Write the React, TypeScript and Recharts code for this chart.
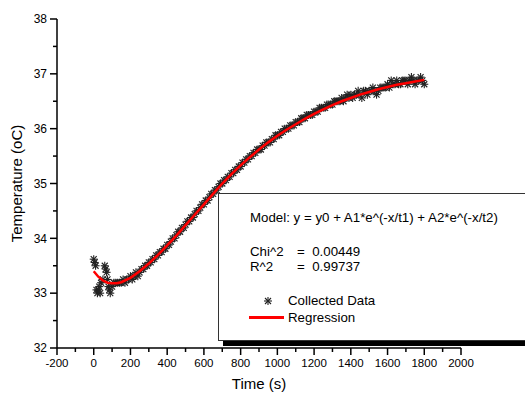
import { ComposedChart, Scatter, XAxis, YAxis, Legend } from 'recharts'

// collected samples (s, oC)
const sampleTime = [
    0, 5, 10, 15, 20, 25, 30, 35, 40, 50, 60, 65, 70, 75, 80, 85, 90, 100, 110, 120,
    130, 140, 150, 160, 170, 180, 190, 200, 210, 220, 230, 240, 250, 260, 270, 280, 290, 300, 310, 320,
    330, 340, 350, 360, 370, 380, 390, 400, 410, 420, 430, 440, 450, 460, 470, 480, 490, 500, 510, 520,
    530, 540, 550, 560, 570, 580, 590, 600, 610, 620, 630, 640, 650, 660, 670, 680, 690, 700, 710, 720,
    730, 740, 750, 760, 770, 780, 790, 800, 810, 820, 830, 840, 850, 860, 870, 880, 890, 900, 910, 920,
    930, 940, 950, 960, 970, 980, 990, 1000, 1010, 1020, 1030, 1040, 1050, 1060, 1070, 1080, 1090, 1100, 1110, 1120,
    1130, 1140, 1150, 1160, 1170, 1180, 1190, 1200, 1210, 1220, 1230, 1240, 1250, 1260, 1270, 1280, 1290, 1300, 1310, 1320,
    1330, 1340, 1350, 1360, 1370, 1380, 1390, 1400, 1410, 1420, 1430, 1440, 1450, 1460, 1470, 1480, 1490, 1500, 1510, 1520,
    1530, 1540, 1550, 1560, 1570, 1580, 1590, 1600, 1610, 1620, 1630, 1640, 1650, 1660, 1670, 1680, 1690, 1700, 1710, 1720,
    1730, 1740, 1750, 1760, 1770, 1780, 1790, 1800,
]
const sampleTemp = [
    33.62, 33.56, 33.5, 33.06, 33.0, 33.06, 33.12, 33.0, 33.19, 33.25, 33.5, 33.44, 33.38, 33.25, 33.12, 33.06, 33.0, 33.12, 33.19, 33.19,
    33.19, 33.19, 33.19, 33.25, 33.19, 33.25, 33.25, 33.31, 33.25, 33.31, 33.38, 33.31, 33.38, 33.44, 33.44, 33.5, 33.5, 33.56, 33.56, 33.62,
    33.62, 33.69, 33.69, 33.75, 33.75, 33.81, 33.81, 33.88, 33.88, 33.94, 34.0, 34.0, 34.06, 34.12, 34.12, 34.19, 34.19, 34.25, 34.31, 34.31,
    34.38, 34.38, 34.44, 34.5, 34.5, 34.56, 34.62, 34.62, 34.69, 34.69, 34.75, 34.81, 34.81, 34.88, 34.88, 34.94, 35.0, 35.0, 35.06, 35.06,
    35.12, 35.12, 35.19, 35.19, 35.25, 35.25, 35.31, 35.31, 35.38, 35.38, 35.44, 35.44, 35.5, 35.5, 35.56, 35.56, 35.62, 35.62, 35.62, 35.69,
    35.69, 35.75, 35.75, 35.75, 35.81, 35.81, 35.88, 35.88, 35.88, 35.94, 35.94, 36.0, 36.0, 36.0, 36.06, 36.06, 36.06, 36.12, 36.12, 36.12,
    36.19, 36.19, 36.19, 36.25, 36.25, 36.25, 36.25, 36.31, 36.31, 36.31, 36.38, 36.38, 36.38, 36.38, 36.44, 36.44, 36.44, 36.44, 36.5, 36.5,
    36.5, 36.5, 36.56, 36.5, 36.56, 36.62, 36.56, 36.62, 36.56, 36.62, 36.62, 36.69, 36.62, 36.56, 36.69, 36.69, 36.62, 36.69, 36.69, 36.75,
    36.69, 36.62, 36.69, 36.75, 36.75, 36.75, 36.75, 36.81, 36.75, 36.88, 36.81, 36.81, 36.88, 36.81, 36.81, 36.88, 36.88, 36.88, 36.81, 36.88,
    36.94, 36.88, 36.81, 36.88, 36.88, 36.94, 36.88, 36.81,
]

// fitted curve
const fitTime = [
    0, 25, 50, 75, 100, 125, 150, 200, 250, 300, 350, 400, 450, 500, 550, 600, 650, 700, 750, 800,
    850, 900, 950, 1000, 1050, 1100, 1150, 1200, 1250, 1300, 1350, 1400, 1450, 1500, 1550, 1600, 1650, 1700, 1750, 1800,
]
const fitTemp = [
    33.4, 33.3, 33.23, 33.19, 33.18, 33.18, 33.2, 33.28, 33.4, 33.54, 33.7, 33.87, 34.05, 34.24, 34.43, 34.62, 34.81, 35.0, 35.17, 35.33,
    35.48, 35.62, 35.75, 35.87, 35.98, 36.08, 36.18, 36.27, 36.35, 36.43, 36.5, 36.56, 36.62, 36.67, 36.72, 36.76, 36.8, 36.83, 36.86, 36.89,
]

const xTicks = [-200, -100, 0, 100, 200, 300, 400, 500, 600, 700, 800, 900, 1000, 1100, 1200, 1300, 1400, 1500, 1600, 1700, 1800, 1900, 2000]
const yTicks = [32, 32.5, 33, 33.5, 34, 34.5, 35, 35.5, 36, 36.5, 37, 37.5, 38]

const samples = sampleTime.map((t, i) => ({ t, temp: sampleTemp[i] }))
const fit = fitTime.map((t, i) => ({ t, temp: fitTemp[i] }))

const FONT = '"Liberation Sans", Arial, sans-serif'

const Star = ({ cx, cy }: any) => {
    const r = 4
    const d = 3
    return (
        <g stroke="#222" strokeWidth={1.1}>
            <line x1={cx} y1={cy - r} x2={cx} y2={cy + r} />
            <line x1={cx - r} y1={cy} x2={cx + r} y2={cy} />
            <line x1={cx - d} y1={cy - d} x2={cx + d} y2={cy + d} />
            <line x1={cx - d} y1={cy + d} x2={cx + d} y2={cy - d} />
        </g>
    )
}

const NoDot = () => null

const XTick = ({ x, y, payload }: any) => {
    const major = payload.value % 200 === 0
    return (
        <g>
            <line x1={x} x2={x} y1={y} y2={y + (major ? 7 : 4)} stroke="#000" strokeWidth={1.5} />
            {major && (
                <text x={x} y={y + 19} textAnchor="middle" fontSize={11.5} fill="#000" fontFamily={FONT}>
                    {payload.value}
                </text>
            )}
        </g>
    )
}

const YTick = ({ x, y, payload }: any) => {
    const major = Number.isInteger(payload.value)
    return (
        <g>
            <line x1={x} x2={x - (major ? 7 : 4)} y1={y} y2={y} stroke="#000" strokeWidth={1.5} />
            {major && (
                <text x={x - 10} y={y + 4.3} textAnchor="end" fontSize={12} fill="#000" fontFamily={FONT}>
                    {payload.value}
                </text>
            )}
        </g>
    )
}

const txt = (left: number, top: number): React.CSSProperties => ({
    position: 'absolute',
    left,
    top,
    whiteSpace: 'nowrap',
    lineHeight: '16px',
})

const FitBox = () => (
    <div
        style={{
            position: 'relative',
            width: 320,
            height: 146,
            border: '1px solid #333',
            background: '#fff',
            boxShadow: '5px 5px 0 #000',
            fontFamily: FONT,
            fontSize: 13.3,
            color: '#000',
        }}
    >
        <div style={txt(31, 16)}>Model: y = y0 + A1*e^(-x/t1) + A2*e^(-x/t2)</div>
        <div style={txt(31, 50)}>Chi^2</div>
        <div style={txt(78, 50)}>= &nbsp;0.00449</div>
        <div style={txt(31, 65)}>R^2</div>
        <div style={txt(78, 65)}>= &nbsp;0.99737</div>
        <svg style={{ position: 'absolute', left: 43, top: 101 }} width={12} height={12}>
            <Star cx={6} cy={6} />
        </svg>
        <div style={txt(69, 99)}>Collected Data</div>
        <div style={{ position: 'absolute', left: 30, top: 122, width: 35, height: 3, background: '#f00' }} />
        <div style={txt(69, 116)}>Regression</div>
    </div>
)

const App = () => {
    return (
        <div
            style={{
                position: 'absolute',
                left: 0,
                top: 0,
                width: 525,
                height: 394,
                overflow: 'hidden',
                background: '#fff',
                fontFamily: FONT,
            }}
        >
            <ComposedChart width={525} height={394} margin={{ top: 19, right: 64, bottom: 0, left: 0 }}>
                <XAxis
                    dataKey="t"
                    type="number"
                    domain={[-200, 2000]}
                    ticks={xTicks}
                    interval={0}
                    height={46}
                    tickSize={0}
                    tickMargin={0}
                    tickLine={false}
                    axisLine={{ stroke: '#000', strokeWidth: 1.5 }}
                    tick={<XTick />}
                    label={{ value: 'Time (s)', position: 'insideBottom', offset: 5, fontSize: 15, fill: '#000', fontFamily: FONT }}
                />
                <YAxis
                    dataKey="temp"
                    type="number"
                    domain={[32, 38]}
                    ticks={yTicks}
                    interval={0}
                    width={57}
                    tickSize={0}
                    tickMargin={0}
                    tickLine={false}
                    axisLine={{ stroke: '#000', strokeWidth: 1.5 }}
                    tick={<YTick />}
                    label={{
                        value: 'Temperature (oC)',
                        angle: -90,
                        position: 'insideLeft',
                        offset: 17,
                        fontSize: 15,
                        fill: '#000',
                        fontFamily: FONT,
                        style: { textAnchor: 'middle' },
                    }}
                />
                <Scatter name="Collected Data" data={samples} dataKey="temp" shape={<Star />} isAnimationActive={false} />
                <Scatter
                    name="Regression"
                    data={fit}
                    dataKey="temp"
                    shape={<NoDot />}
                    line={{ stroke: '#f00', strokeWidth: 2.5 }}
                    lineType="joint"
                    isAnimationActive={false}
                />
                <Legend
                    layout="horizontal"
                    verticalAlign="middle"
                    align="center"
                    wrapperStyle={{ left: 218, top: 193, width: 320, height: 148 }}
                    content={() => <FitBox />}
                />
            </ComposedChart>
        </div>
    )
}

export default App
